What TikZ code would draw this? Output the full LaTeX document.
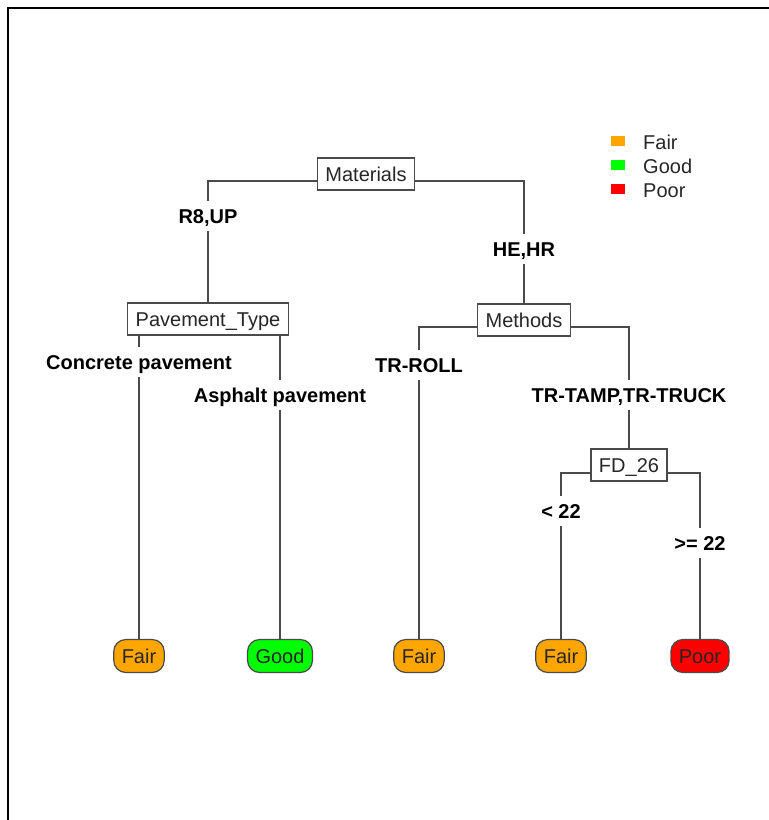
\documentclass[tikz,border=0pt]{standalone}
\usepackage{fontspec}
\setmainfont{Liberation Sans}
\usetikzlibrary{calc}
\definecolor{fairc}{HTML}{FFA500}
\definecolor{goodc}{HTML}{00FF00}
\definecolor{poorc}{HTML}{FF0000}
\definecolor{edgec}{HTML}{4A4A4A}
\definecolor{txtc}{HTML}{262626}
\begin{document}
\begin{tikzpicture}[x=1pt,y=-1pt,
  basefont/.style={font=\fontsize{20}{22}\selectfont},
  split/.style={basefont, draw=edgec, line width=1.2pt, fill=white, text=txtc,
    inner xsep=8pt, inner ysep=0pt, minimum height=32pt, text height=14pt, text depth=0pt},
  leaf/.style={basefont, draw=edgec, line width=1.2pt, rounded corners=12pt, text=txtc,
    inner xsep=8pt, inner ysep=0pt, minimum height=33pt, text height=14pt, text depth=0pt},
  lbl/.style={font=\bfseries\fontsize{20}{22}\selectfont, text=black,
    inner xsep=2pt, inner ysep=8pt, text height=14pt, text depth=0pt},
  branch/.style={draw=edgec, line width=1.3pt},
  key/.style={minimum width=14pt, minimum height=10pt, inner sep=0pt},
  keytext/.style={basefont, text=txtc, anchor=west, inner sep=0pt,
    text height=14pt, text depth=0pt}]
  \useasboundingbox (0,0) rectangle (769,820);

  % outer frame (open to the right and bottom)
  \draw[line width=2pt] (8,820) -- (8,8) -- (769,8);

  % split nodes
  \node[split] (mat)  at (366,174) {Materials};
  \node[split] (pav)  at (208,319) {Pavement\_Type};
  \node[split] (meth) at (524,320) {Methods};
  \node[split] (fd)   at (629,465) {FD\_26};

  % branch labels
  \node[lbl] (r8)   at (208,216) {R8,UP};
  \node[lbl] (hehr) at (524,249) {HE,HR};
  \node[lbl] (conc) at (139,362) {Concrete pavement};
  \node[lbl] (asph) at (280,395) {Asphalt pavement};
  \node[lbl] (roll) at (419,365) {TR-ROLL};
  \node[lbl] (tamp) at (629,395) {TR-TAMP,TR-TRUCK};
  \node[lbl] (lt)   at (561,511) {< 22};
  \node[lbl] (ge)   at (700,543) {>= 22};

  % leaves
  \node[leaf, fill=fairc] (l1) at (139,656) {Fair};
  \node[leaf, fill=goodc] (l2) at (280,656) {Good};
  \node[leaf, fill=fairc] (l3) at (419,656) {Fair};
  \node[leaf, fill=fairc] (l4) at (561,656) {Fair};
  \node[leaf, fill=poorc] (l5) at (700,656) {Poor};

  % branches
  \draw[branch] ($(mat.west)+(0,7)$) -| (r8);
  \draw[branch] (r8) -- (pav);
  \draw[branch] ($(mat.east)+(0,7)$) -| (hehr);
  \draw[branch] (hehr) -- (meth);

  \draw[branch] (pav.south -| conc) -- (conc);
  \draw[branch] (conc) -- (l1);
  \draw[branch] (pav.south -| asph) -- (asph);
  \draw[branch] (asph) -- (l2);

  \draw[branch] ($(meth.west)+(0,7)$) -| (roll);
  \draw[branch] (roll) -- (l3);
  \draw[branch] ($(meth.east)+(0,7)$) -| (tamp);
  \draw[branch] (tamp) -- (fd);

  \draw[branch] ($(fd.west)+(0,8)$) -| (lt);
  \draw[branch] (lt) -- (l4);
  \draw[branch] ($(fd.east)+(0,8)$) -| (ge);
  \draw[branch] (ge) -- (l5);

  % legend
  \node[key, fill=fairc] (kf) at (618,141) {};
  \node[key, fill=goodc] (kg) at (618,165) {};
  \node[key, fill=poorc] (kp) at (618,189) {};
  \node[keytext] (tf) at (643,142) {Fair};
  \node[keytext] (tg) at (643,166) {Good};
  \node[keytext] (tp) at (643,190) {Poor};
\end{tikzpicture}
\end{document}
